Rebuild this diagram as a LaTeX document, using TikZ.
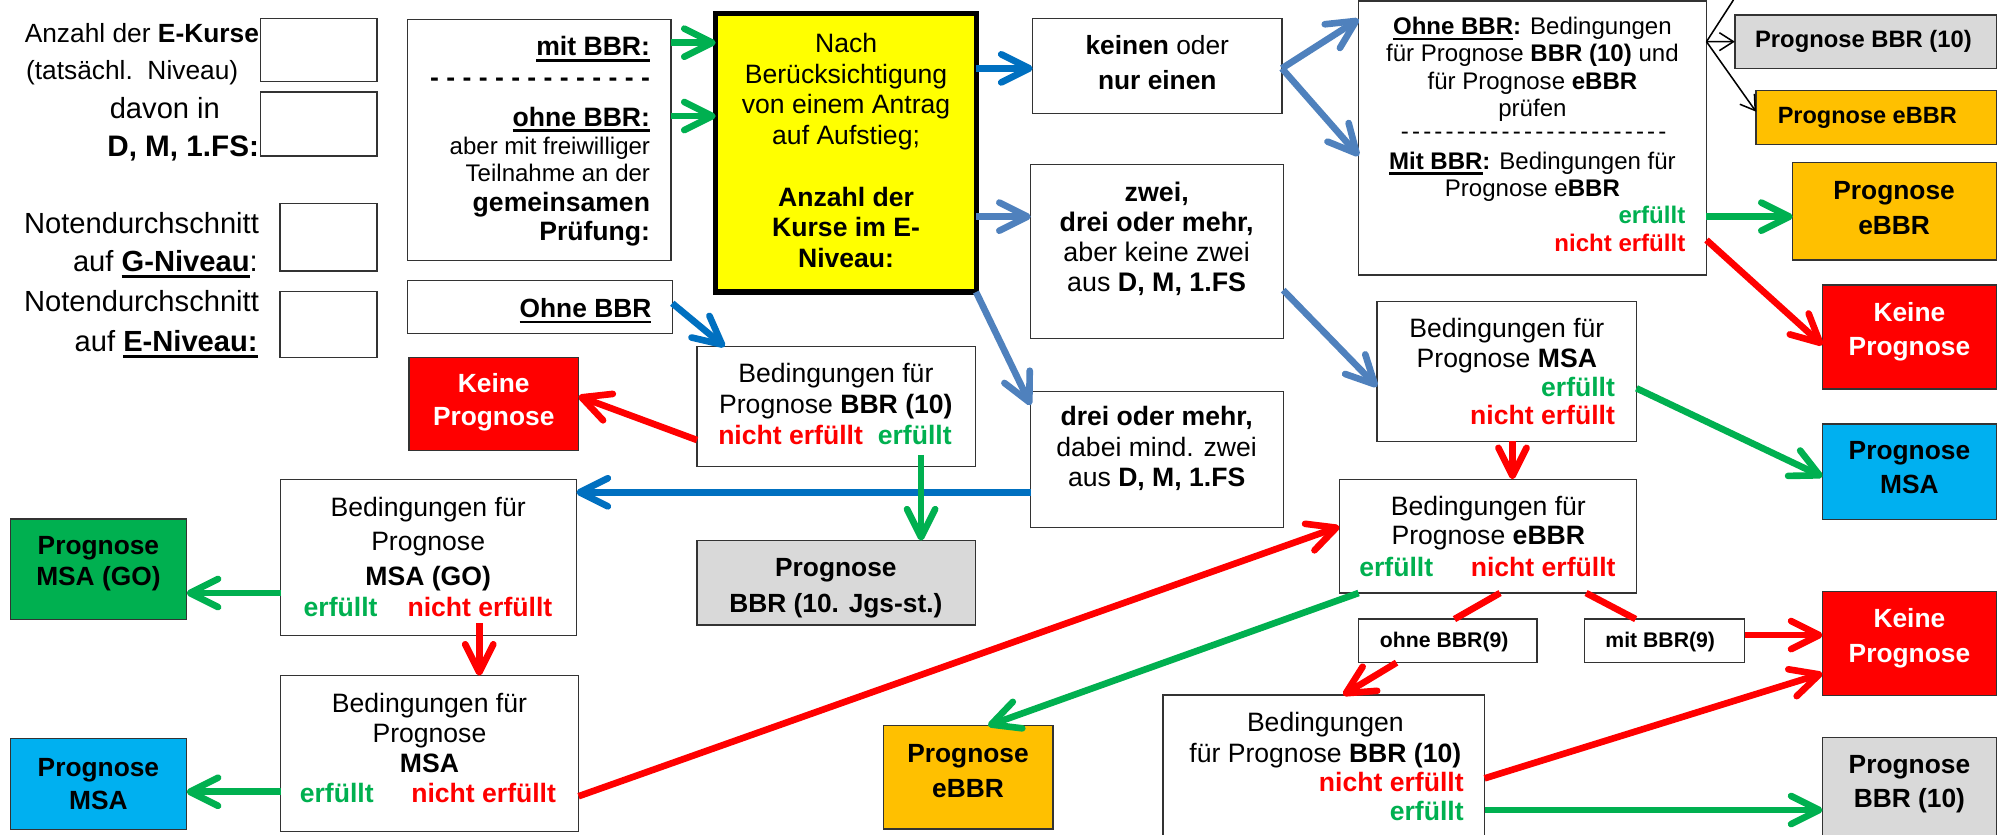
\documentclass[tikz,border=0pt]{standalone}
\usepackage{fontspec}
\setmainfont{Liberation Sans}
\usetikzlibrary{arrows.meta}

\definecolor{cred}{HTML}{FF0000}
\definecolor{cgreen}{HTML}{00B050}
\definecolor{cblue}{HTML}{0070C0}
\definecolor{csteel}{HTML}{4F81BD}
\definecolor{corange}{HTML}{FFC000}
\definecolor{cgray}{HTML}{D9D9D9}
\definecolor{clblue}{HTML}{00B0F0}
\definecolor{cyellow}{HTML}{FFFF00}
\definecolor{cdgreen}{HTML}{00B050}

\newcommand\fsz[2]{\fontsize{#1pt}{#2pt}\selectfont}
% thick underline
\newcommand\ulin[1]{\setbox0\hbox{#1}\rlap{\rule[-2.2pt]{\wd0}{0.9pt}}\box0}
% box from corner coordinates: [style]{name}{x1}{y1}{x2}{y2}
\newcommand\mkbox[6][]{%
  \node[box,#1,minimum width={(#5-#3)*0.5pt},minimum height={(#6-#4)*0.5pt}]
    (#2) at ({(#3+#5)/2},{(#4+#6)/2}) {};}

\tikzset{
  box/.style={draw=black!80, line width=0.5pt, inner sep=0pt, outer sep=0pt, fill=white},
  txt/.style={inner sep=0pt, anchor=base, align=center},
  txtr/.style={inner sep=0pt, anchor=base east, align=right},
  arr/.style={line width=2.6pt, -{Straight Barb[length=11pt,width=11pt,round]}},
  ag/.style={arr, draw=cgreen},
  ar/.style={arr, draw=cred},
  ab/.style={arr, draw=cblue},
  as/.style={arr, draw=csteel},
  lr/.style={line width=2.6pt, draw=cred},
  thinarr/.style={line width=0.6pt, draw=black, -{Straight Barb[length=5.5pt,width=7pt]}},
  ok/.style={text=cgreen, font=\fsz{10.4}{12}\bfseries},
  nok/.style={text=cred, font=\fsz{10.4}{12}\bfseries},
  outtxt/.style={font=\fsz{10.3}{13.3}\bfseries},
}

\begin{document}
\begin{tikzpicture}[x=0.5pt,y=-0.5pt]
\useasboundingbox (0,0) rectangle (1568,652.6);
\clip (0,0) rectangle (1568,652.6);
\fill[white] (0,0) rectangle (1568,652.6);

% ---------- input fields on the left ----------
\mkbox{in1}{204}{14.3}{295}{64}
\mkbox{in2}{204}{72}{295}{122}
\mkbox{in3}{219}{159}{295}{212}
\mkbox{in4}{219}{228}{295}{280}
\node[txtr, font=\fsz{10.3}{12}] (la1) at (203,33) {Anzahl der \textbf{E-Kurse}};
\node[txt, anchor=base west, font=\fsz{10.3}{12}] (la2) at (20,62) {(tatsächl.\ \ Niveau)};
\node[txt, font=\fsz{11.4}{13}] (la3) at (129,92.8) {davon in};
\node[txtr, font=\fsz{11.6}{13}] (la4) at (203,122.8) {\textbf{D, M, 1.FS:}};
\node[txtr, font=\fsz{11.4}{13}] (la5) at (203,182.7) {Notendurchschnitt};
\node[txtr, font=\fsz{11.4}{13}] (la6) at (202,212.8) {auf \ulin{\textbf{G-Niveau}}:};
\node[txtr, font=\fsz{11.4}{13}] (la7) at (203,244) {Notendurchschnitt};
\node[txtr, font=\fsz{11.4}{13}] (la8) at (202,275.4) {auf \ulin{\textbf{E-Niveau:}}};

% ---------- boxes ----------
\mkbox{mit}{319}{15}{525}{204}
\mkbox{ohne}{319}{219.6}{526}{261}
\mkbox[fill=cred]{kp1}{320}{279.6}{452.6}{352.6}
\mkbox{bbr10}{545.4}{271.3}{763}{365}
\mkbox[fill=cgray]{jgs}{545.4}{423}{763}{489}
\mkbox{msago}{219.5}{375}{451}{497}
\mkbox[fill=cdgreen]{pgo}{8}{406}{146}{484.6}
\mkbox{msa}{219.5}{528.7}{452.7}{650.8}
\mkbox[fill=clblue]{pmsa1}{8}{578}{146}{648.8}
\mkbox[fill=cyellow, line width=2pt, draw=black]{yel}{560}{10.4}{763.7}{228.5}
\mkbox{kein}{808}{14.3}{1003}{89}
\mkbox{zwei}{806.5}{128.6}{1004}{265}
\mkbox{drei}{806.5}{306.5}{1004}{412.5}
\mkbox{big}{1063.2}{0.8}{1335.2}{215.2}
\mkbox[fill=cgray]{pbbr1}{1357.4}{11.7}{1562}{53.5}
\mkbox[fill=corange]{pe1}{1374}{71}{1562}{113}
\mkbox[fill=corange]{pe2}{1402.7}{127.3}{1562}{203.4}
\mkbox[fill=cred]{kp2}{1426}{223}{1562}{304.4}
\mkbox{msab}{1077.5}{236}{1280.4}{345.3}
\mkbox[fill=clblue]{pmsa2}{1426}{331.8}{1562}{406.4}
\mkbox{ebbr}{1048}{375}{1280.4}{464}
\mkbox{o9}{1063}{484.4}{1202.6}{518.5}
\mkbox{m9}{1240}{484.4}{1365}{518.5}
\mkbox[fill=cred]{kp3}{1426}{463}{1562}{544}
\mkbox{bbr10b}{910}{543.8}{1161.6}{660}
\mkbox[fill=cgray]{pbbr2}{1426}{577}{1562}{660}
\mkbox[fill=corange]{pe3}{691}{567.8}{823.8}{648.7}

% ---------- texts (multi-line nodes sit on the baseline of their last line) ----------
\node[txtr, font=\fsz{10.4}{12}] (m1) at (509,43.8) {\ulin{\textbf{mit BBR:}}};
\node[txtr, font=\fsz{10.4}{12}\bfseries] (m2) at (509,68) {- - - - - - - - - - - - - -};
\node[txtr, font=\fsz{10.4}{12}] (m3) at (509,98.6) {\ulin{\textbf{ohne BBR:}}};
\node[txtr, font=\fsz{9.4}{10.75}] (m4) at (509,142.1) {aber mit freiwilliger\\Teilnahme an der};
\node[txtr, font=\fsz{10.4}{11.5}\bfseries] (m5) at (509,188.3) {gemeinsamen\\Prüfung:};

\node[txtr, font=\fsz{10.3}{12}] (ot) at (510,248.3) {\ulin{\textbf{Ohne BBR}}};

\node[txt, font=\fsz{10.4}{11.9}] (y1) at (662,112.7) {Nach\\Berücksichtigung\\von einem Antrag\\auf Aufstieg;};
\node[txt, font=\fsz{10.4}{12}\bfseries] (y2) at (662,209.3) {Anzahl der\\Kurse im E-\\Niveau:};

\node[txt, font=\fsz{10.3}{13.7}] (k1) at (905.5,69.9) {\textbf{keinen} oder\\\textbf{nur einen}};
\node[txt, font=\fsz{10.5}{11.85}] (z1) at (905,228.4) {\textbf{zwei,}\\\textbf{drei oder mehr,}\\aber keine zwei\\aus \textbf{D, M, 1.FS}};
\node[txt, font=\fsz{10.4}{11.9}] (d1) at (905,380.9) {\textbf{drei oder mehr,}\\dabei mind. zwei\\aus \textbf{D, M, 1.FS}};

\node[txt, font=\fsz{9.4}{10.75}] (b1) at (1199,91.4) {\ulin{\textbf{Ohne BBR}}\textbf{:} Bedingungen\\für Prognose \textbf{BBR (10)} und\\für Prognose \textbf{eBBR}\\prüfen};
\node[txt, font=\fsz{9.4}{10.75}] (b2) at (1200,109.5) {-\hspace{1.25pt}-\hspace{1.25pt}-\hspace{1.25pt}-\hspace{1.25pt}-\hspace{1.25pt}-\hspace{1.25pt}-\hspace{1.25pt}-\hspace{1.25pt}-\hspace{1.25pt}-\hspace{1.25pt}-\hspace{1.25pt}-\hspace{1.25pt}-\hspace{1.25pt}-\hspace{1.25pt}-\hspace{1.25pt}-\hspace{1.25pt}-\hspace{1.25pt}-\hspace{1.25pt}-\hspace{1.25pt}-\hspace{1.25pt}-\hspace{1.25pt}-\hspace{1.25pt}-\hspace{1.25pt}-};
\node[txt, font=\fsz{9.4}{10.85}] (b3) at (1199,154) {\ulin{\textbf{Mit BBR}}\textbf{:} Bedingungen für\\Prognose e\textbf{BBR}};
\node[txtr, ok, font=\fsz{9.4}{11}\bfseries] (b4) at (1319,174.8) {erfüllt};
\node[txtr, nok, font=\fsz{9.4}{11}\bfseries] (b5) at (1319,197) {nicht erfüllt};

\node[txt, font=\fsz{9.3}{11}\bfseries] (pb1t) at (1458,37.4) {Prognose BBR (10)};
\node[txt, font=\fsz{9.2}{11}\bfseries] (pe1t) at (1461,96.6) {Prognose eBBR};
\node[txt, outtxt, font=\fsz{10.3}{13.65}\bfseries] (pe2t) at (1482,183.3) {Prognose\\eBBR};
\node[txt, outtxt, text=white, font=\fsz{10.3}{13.5}\bfseries] (kp2t) at (1494,278.2) {Keine\\Prognose};
\node[txt, outtxt] (pm2t) at (1494,385.9) {Prognose\\MSA};

\node[txt, font=\fsz{10.4}{11.7}] (ms1) at (1179,287.7) {Bedingungen für\\Prognose \textbf{MSA}};
\node[txtr, ok] (ms2) at (1264,310.3) {erfüllt};
\node[txtr, nok] (ms3) at (1264,332) {nicht erfüllt};

\node[txt, font=\fsz{10.4}{11.3}] (eb1) at (1164.5,425.9) {Bedingungen für\\Prognose \textbf{eBBR}};
\node[txt, ok] (eb2) at (1092.5,451.3) {erfüllt};
\node[txt, nok] (eb3) at (1207.4,451.3) {nicht erfüllt};

\node[txt, font=\fsz{8.3}{10}\bfseries] (o9t) at (1130,507) {ohne BBR(9)};
\node[txt, font=\fsz{8.3}{10}\bfseries] (m9t) at (1299,507) {mit BBR(9)};
\node[txt, outtxt, text=white, font=\fsz{10.3}{13.7}\bfseries] (kp3t) at (1494,518.4) {Keine\\Prognose};
\node[txt, outtxt, font=\fsz{10.3}{13.6}\bfseries] (pb2t) at (1494,632.2) {Prognose\\BBR (10)};

\node[txt, font=\fsz{10.4}{12.4}] (bb1) at (1037,596.8) {Bedingungen\\für Prognose \textbf{BBR (10)}};
\node[txtr, nok] (bb2) at (1145.6,619) {nicht erfüllt};
\node[txtr, ok] (bb3) at (1145.6,642.3) {erfüllt};

\node[txt, outtxt, font=\fsz{10.3}{13.65}\bfseries] (pe3t) at (757.4,624.1) {Prognose\\eBBR};
\node[txt, outtxt, font=\fsz{10.3}{14.1}\bfseries] (jgt) at (654,478.9) {Prognose\\BBR (10. Jgs-st.)};

\node[txt, font=\fsz{10.4}{12}] (bt1) at (654,323.3) {Bedingungen für\\Prognose \textbf{BBR (10)}};
\node[txt, nok] (bt2) at (618.6,347.7) {nicht erfüllt};
\node[txt, ok] (bt3) at (715.7,347.7) {erfüllt};

\node[txt, outtxt, text=white, font=\fsz{10.3}{13}\bfseries] (kp1t) at (386.3,333.3) {Keine\\Prognose};

\node[txt, font=\fsz{10.4}{13.6}] (mg1) at (335,458.2) {Bedingungen für\\Prognose\\\textbf{MSA (GO)}};
\node[txt, ok] (mg2) at (266.5,482) {erfüllt};
\node[txt, nok] (mg3) at (375.5,482) {nicht erfüllt};
\node[txt, outtxt, font=\fsz{10.3}{12.25}\bfseries] (pgot) at (77,458.3) {Prognose\\MSA (GO)};

\node[txt, font=\fsz{10.4}{11.7}] (ma1) at (336,604.1) {Bedingungen für\\Prognose\\\textbf{MSA}};
\node[txt, ok] (ma2) at (263.5,628) {erfüllt};
\node[txt, nok] (ma3) at (378.4,628) {nicht erfüllt};
\node[txt, outtxt, font=\fsz{10.3}{13}\bfseries] (pm1t) at (77,633.3) {Prognose\\MSA};

% ---------- free connector ends inside boxes ----------
\coordinate (gs) at (720.7,356);
\coordinate (rs) at (375,487.6);
\coordinate (fork) at (1335.2,32.6);

% ---------- blue connectors ----------
\draw[ab] (yel.east |- 0,53.5) -- (kein.west |- 0,53.5);
\draw[as] (yel.east |- 0,169.5) -- (zwei.west |- 0,169.5);
\draw[as] (yel.south east) -- (drei.west |- 0,317);
\draw[as] (kein.east |- 0,53.5) -- (big.west |- 0,15);
\draw[as] (kein.east |- 0,53.5) -- (big.west |- 0,122);
\draw[as] (zwei.east |- 0,227) -- (msab.west |- 0,302.6);
\draw[ab] (drei.west |- 0,385.2) -- (msago.east |- 0,385.2);
\draw[ab] (ohne.east |- 0,237.3) -- (567,0 |- bbr10.north);

% ---------- green connectors ----------
\draw[ag] (mit.east |- 0,33.4) -- (yel.west |- 0,33.4);
\draw[ag] (mit.east |- 0,90.8) -- (yel.west |- 0,90.8);
\draw[ag] (big.east |- 0,169.5) -- (pe2.west |- 0,169.5);
\draw[ag] (msab.east |- 0,303.8) -- (pmsa2.west |- 0,373);
\draw[ag] (gs) -- (gs |- jgs.north);
\draw[ag] (msago.west |- 0,464) -- (pgo.east |- 0,464);
\draw[ag] (msa.west |- 0,619.5) -- (pmsa1.east |- 0,619.5);
\draw[ag] (1063,0 |- ebbr.south) -- (773,0 |- pe3.north);
\draw[ag] (bbr10b.east |- 0,633.8) -- (pbbr2.west |- 0,633.8);

% ---------- red connectors ----------
\draw[ar] (big.east |- 0,187.8) -- (kp2.west |- 0,270);
\draw[ar] (1183.4,0 |- msab.south) -- (1183.4,0 |- ebbr.north);
\draw[ar] (bbr10.west |- 0,344.3) -- (kp1.east |- 0,310);
\draw[ar] (rs) -- (rs |- msa.north);
\draw[ar] (msa.east |- 0,623) -- (ebbr.west |- 0,412);
\draw[lr] (1173.7,0 |- ebbr.south) -- (1138,0 |- o9.north);
\draw[lr] (1241,0 |- ebbr.south) -- (1279.8,0 |- m9.north);
\draw[ar] (1092.7,0 |- o9.south) -- (1050.8,0 |- bbr10b.north);
\draw[ar] (m9.east |- 0,496.9) -- (kp3.west |- 0,496.9);
\draw[ar] (bbr10b.east |- 0,609) -- (kp3.west |- 0,526.9);

% ---------- thin black connectors ----------
\draw[line width=0.6pt] (fork) -- (1356.3,0);
\draw[thinarr] (fork) -- (pbbr1.west);
\draw[thinarr] (fork) -- (pe1.west |- 0,87.4);
\end{tikzpicture}
\end{document}
